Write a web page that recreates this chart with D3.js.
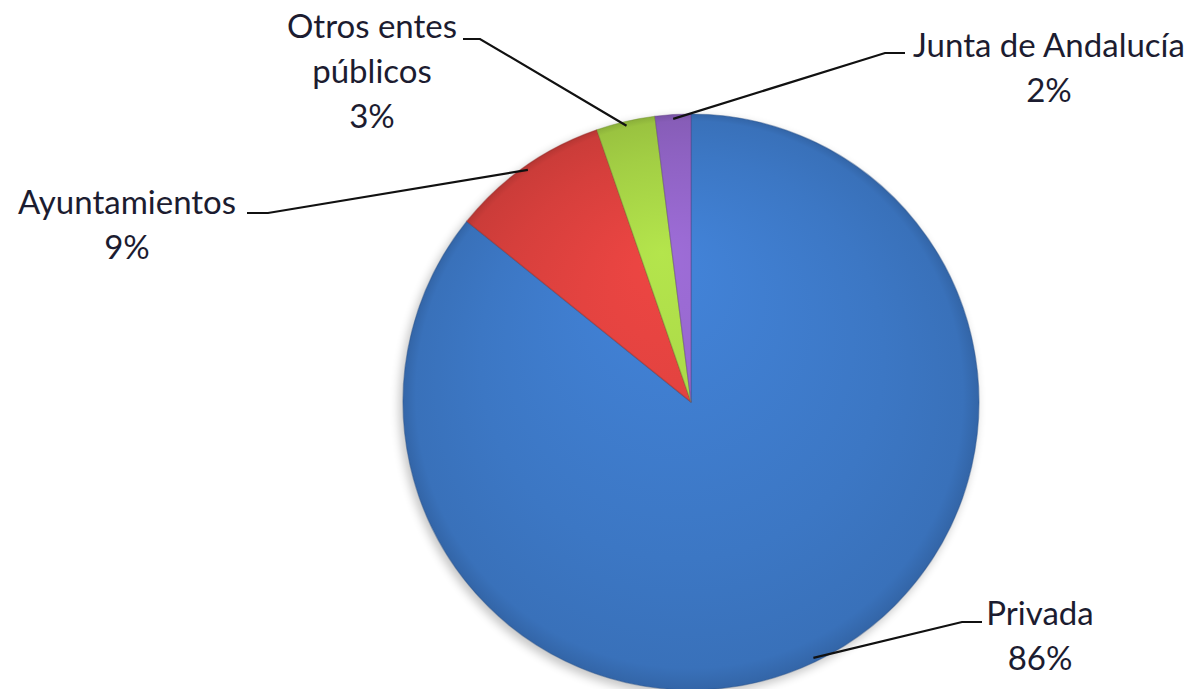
<!DOCTYPE html>
<html lang="es">
<head>
  <meta charset="UTF-8">
  <title>Distribución por titularidad</title>
  <script src="https://d3js.org/d3.v7.min.js"></script>
  <style>
    body, html {
      margin: 0;
      padding: 0;
      background: #fff;
    }
    svg {
      display: block;
    }
    .label {
      font-family: Lato, "Open Sans", sans-serif;
      font-size: 33px;
      fill: #1c1c30;
      text-anchor: middle;
    }
    .leader {
      fill: none;
      stroke: #111;
      stroke-width: 2.2px;
    }
  </style>
</head>
<body>
  <svg width="1195" height="689"></svg>

  <script>
    const categories = ["Privada", "Ayuntamientos", "Otros entes públicos", "Junta de Andalucía"];
    const values = [85.8, 8.9, 3.3, 2.0];
    const labelLines = [["Privada"], ["Ayuntamientos"], ["Otros entes", "públicos"], ["Junta de Andalucía"]];
    const baseColors = ["#3c77c4", "#d63f3c", "#a2ce44", "#8e62c2"];

    const width = 1195;
    const height = 689;
    const cx = 691, cy = 402, radius = 288;

    // label placement: text centre x, first baseline y, elbow x, elbow y, line end x
    const labelPos = [
      { tx: 1040, ty: 625, ex: 962, ey: 622, lx: 982 },
      { tx: 127,  ty: 214, ex: 268, ey: 213, lx: 247 },
      { tx: 372,  ty: 38,  ex: 480, ey: 39,  lx: 463 },
      { tx: 1049, ty: 57,  ex: 885, ey: 53,  lx: 905 }
    ];

    const data = categories.map((c, i) => ({ label: c, value: values[i], lines: labelLines[i], color: baseColors[i], pos: labelPos[i] }));
    const total = d3.sum(values);

    const svg = d3.select("svg");
    const defs = svg.append("defs");

    // soft shadow
    const blur = defs.append("filter").attr("id", "shadow")
      .attr("x", "-20%").attr("y", "-20%").attr("width", "140%").attr("height", "140%");
    blur.append("feGaussianBlur").attr("stdDeviation", 5);

    // gradients live in the slice group's coordinates (origin = pie centre)
    data.forEach((d, i) => {
      const c = d3.color(d.color);
      const g = defs.append("radialGradient")
        .attr("id", "grad" + i)
        .attr("gradientUnits", "userSpaceOnUse")
        .attr("cx", 0).attr("cy", 0).attr("r", radius)
        .attr("fx", -30).attr("fy", -150);
      g.append("stop").attr("offset", "0%").attr("stop-color", c.brighter(0.3));
      g.append("stop").attr("offset", "70%").attr("stop-color", c);
      g.append("stop").attr("offset", "95%").attr("stop-color", c.darker(0.15));
      g.append("stop").attr("offset", "100%").attr("stop-color", c.darker(0.45));
    });

    svg.append("circle")
      .attr("cx", cx - 3).attr("cy", cy + 4).attr("r", radius + 1)
      .attr("fill", "#000").attr("opacity", 0.22)
      .attr("filter", "url(#shadow)");

    const pie = d3.pie().sort(null).value(d => d.value);
    const arc = d3.arc().innerRadius(0).outerRadius(radius);

    const g = svg.append("g").attr("transform", `translate(${cx},${cy})`);
    const arcs = g.selectAll(".arc").data(pie(data)).enter().append("g").attr("class", "arc");

    arcs.append("path")
      .attr("d", arc)
      .attr("fill", (d, i) => `url(#grad${i})`)
      .attr("stroke", (d) => d3.color(d.data.color).darker(1))
      .attr("stroke-opacity", 0.45)
      .attr("stroke-width", 1.2)
      .attr("stroke-linejoin", "round");

    // leader lines
    const pts = pie(data).map(d => {
      const a = (d.startAngle + d.endAngle) / 2;
      const r = radius * 0.985;
      return [cx + r * Math.sin(a), cy - r * Math.cos(a)];
    });

    svg.selectAll(".leader").data(data).enter().append("polyline")
      .attr("class", "leader")
      .attr("points", (d, i) => [pts[i], [d.pos.ex, d.pos.ey], [d.pos.lx, d.pos.ey]].map(p => p.join(",")).join(" "));

    // labels
    const labels = svg.selectAll(".label").data(data).enter().append("text")
      .attr("class", "label")
      .attr("x", d => d.pos.tx)
      .attr("y", d => d.pos.ty);

    labels.each(function (d) {
      const t = d3.select(this);
      const lines = d.lines.concat([Math.round(d.value / total * 100) + "%"]);
      lines.forEach((l, j) => {
        t.append("tspan").attr("x", d.pos.tx).attr("dy", j === 0 ? 0 : 45).text(l);
      });
    });
  </script>
</body>
</html>
